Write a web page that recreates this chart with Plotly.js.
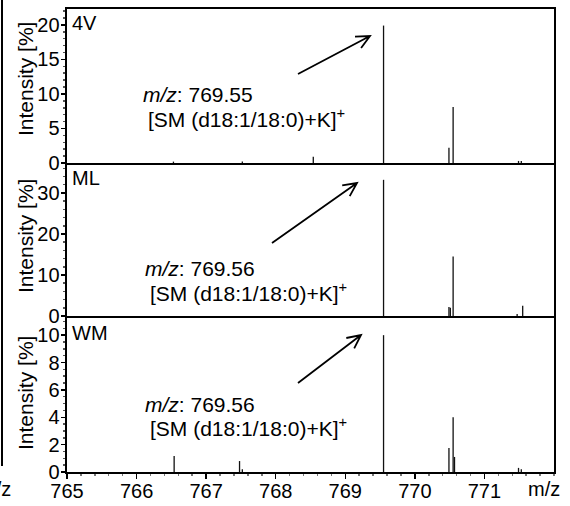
<!DOCTYPE html>
<html>
<head>
<meta charset="utf-8">
<script src="https://cdn.plot.ly/plotly-3.0.1.min.js"></script>
<style>html,body{margin:0;padding:0;background:#fff;}#chart{width:570px;height:506px;}</style>
</head>
<body>
<div id="chart"></div>
<script>
// Peak positions (m/z) and intensities (%) per sample
const mz4V = [766.53, 767.52, 768.54, 769.55, 770.49, 770.55, 771.49, 771.53];
const int4V = [0.2, 0.2, 0.9, 19.9, 2.2, 8.1, 0.3, 0.3];
const mzML = [769.55, 770.49, 770.51, 770.55, 771.47, 771.55];
const intML = [33.2, 2.2, 2.0, 14.5, 0.5, 2.5];
const mzWM = [766.54, 767.48, 767.52, 769.55, 770.49, 770.55, 770.57, 771.49, 771.53];
const intWM = [1.17, 0.8, 0.2, 10.0, 1.75, 4.0, 1.1, 0.3, 0.2];
const panelNames = ["4V", "ML", "WM"];
const peakMz = ["769.55", "769.56", "769.56"];
const yTitle = "Intensity [%]";
const xTicks = [765, 766, 767, 768, 769, 770, 771];

const FONT = "Liberation Sans, Arial, sans-serif";
const W = 570, H = 506, ML_ = 67, MR = 16, MT = 9, MB = 34;
const PW = W - ML_ - MR, PH = H - MT - MB;
const px = p => (p - ML_) / PW;
const py = p => (H - MB - p) / PH;

function sticks(mz, it) {
  const x = [], y = [];
  mz.forEach((m, i) => { x.push(m, m, null); y.push(0, it[i], null); });
  return {x, y};
}
const s1 = sticks(mz4V, int4V), s2 = sticks(mzML, intML), s3 = sticks(mzWM, intWM);
const line = {color: "#111", width: 1.3};
const traces = [
  {type: "scatter", mode: "lines", x: s1.x, y: s1.y, xaxis: "x3", yaxis: "y", line, hoverinfo: "skip", connectgaps: false},
  {type: "scatter", mode: "lines", x: s2.x, y: s2.y, xaxis: "x2", yaxis: "y2", line, hoverinfo: "skip", connectgaps: false},
  {type: "scatter", mode: "lines", x: s3.x, y: s3.y, xaxis: "x", yaxis: "y3", line, hoverinfo: "skip", connectgaps: false}
];

// panel boundaries in pixels
const tops = [9, 163, 316], bots = [163, 316, 472];
const dom = i => [py(bots[i]), py(tops[i])];

const baseX = {
  range: [765, 772], showline: true, linewidth: 2.4, linecolor: "#000",
  showgrid: false, zeroline: false, tickvals: xTicks
};
const baseY = (range, dtick, d, anchor) => ({
  range, dtick, domain: d, anchor, showline: true, linewidth: 2.4, linecolor: "#000", mirror: true,
  showgrid: false, zeroline: false, ticks: "outside", ticklen: 4, tickwidth: 1.5, tickcolor: "#000",
  tickfont: {family: FONT, size: 20, color: "#000"}, ticklabelstandoff: -3,
  minor: {ticks: "outside", ticklen: 2, tickcolor: "#555", nticks: 5}
});

const layout = {
  width: W, height: H, margin: {l: ML_, r: MR, t: MT, b: MB},
  paper_bgcolor: "#fff", plot_bgcolor: "#fff", showlegend: false,
  font: {family: FONT, size: 20, color: "#000"},
  xaxis: Object.assign({}, baseX, {anchor: "y3", mirror: false, ticks: "outside", ticklen: 5, tickwidth: 1.5, tickcolor: "#000",
    tickfont: {family: FONT, size: 20, color: "#000"}, ticklabelstandoff: -5,
    minor: {ticks: "outside", ticklen: 2, tickcolor: "#777", dtick: 0.2}}),
  xaxis2: Object.assign({}, baseX, {anchor: "y2", mirror: false, matches: "x", showticklabels: false, ticks: ""}),
  xaxis3: Object.assign({}, baseX, {anchor: "y", mirror: true, matches: "x", showticklabels: false, ticks: ""}),
  yaxis: baseY([0, 22.3], 5, dom(0), "x3"),
  yaxis2: baseY([0, 37.3], 10, dom(1), "x2"),
  yaxis3: baseY([0, 11.4], 2, dom(2), "x"),
  annotations: [],
  shapes: []
};

// Y axis titles (one per panel)
const titleY = [79, 236, 393];
titleY.forEach(yc => layout.annotations.push({
  xref: "paper", yref: "paper", x: px(25), y: py(yc), xanchor: "center", yanchor: "middle",
  text: yTitle, textangle: -90, showarrow: false, font: {family: FONT, size: 21, color: "#000"}
}));

// Panel labels
const labelY = [23, 178, 333];
panelNames.forEach((n, i) => layout.annotations.push({
  xref: "paper", yref: "paper", x: px(70), y: py(labelY[i]), xanchor: "left", yanchor: "middle",
  text: n, showarrow: false, font: {family: FONT, size: 20, color: "#000"}
}));

// m/z annotations
const l1 = [{x: 141, y: 95}, {x: 143, y: 268}, {x: 143, y: 404}];
const l2 = [{x: 146, y: 118}, {x: 148, y: 292}, {x: 148, y: 427}];
peakMz.forEach((v, i) => {
  layout.annotations.push({xref: "paper", yref: "paper", x: px(l1[i].x), y: py(l1[i].y), xanchor: "left", yanchor: "middle",
    text: "<i>m/z</i>: " + v, showarrow: false, font: {family: FONT, size: 21, color: "#000"}});
  layout.annotations.push({xref: "paper", yref: "paper", x: px(l2[i].x), y: py(l2[i].y), xanchor: "left", yanchor: "middle",
    text: "[SM (d18:1/18:0)+K]<sup>+</sup>", showarrow: false, font: {family: FONT, size: 21, color: "#000"}});
});

// Arrows (open V heads)
const arrows = [[298, 74, 370, 36], [272, 243, 357, 183], [298, 383, 361, 335]];
arrows.forEach(([tx, ty, hx, hy]) => {
  const ang = Math.atan2(ty - hy, tx - hx), L = 15, a = 0.45;
  const w1x = hx + L * Math.cos(ang + a), w1y = hy + L * Math.sin(ang + a);
  const w2x = hx + L * Math.cos(ang - a), w2y = hy + L * Math.sin(ang - a);
  const P = (x, y) => px(x).toFixed(5) + "," + py(y).toFixed(5);
  layout.shapes.push({type: "path", xref: "paper", yref: "paper",
    path: "M" + P(tx, ty) + " L" + P(hx, hy) + " M" + P(w1x, w1y) + " L" + P(hx, hy) + " L" + P(w2x, w2y),
    line: {color: "#000", width: 1.8}});
});

// axis unit labels
layout.annotations.push({xref: "paper", yref: "paper", x: px(544), y: py(489), xanchor: "center", yanchor: "middle",
  text: "m/z", showarrow: false, font: {family: FONT, size: 20, color: "#000"}});
layout.annotations.push({xref: "paper", yref: "paper", x: px(13), y: py(489), xanchor: "right", yanchor: "middle",
  text: "m/z", showarrow: false, font: {family: FONT, size: 20, color: "#000"}});
layout.shapes.push({type: "line", xref: "paper", yref: "paper", x0: px(2), x1: px(2), y0: py(0), y1: py(466),
  line: {color: "#000", width: 2}});

Plotly.newPlot("chart", traces, layout, {staticPlot: true, displayModeBar: false});
</script>
</body>
</html>
